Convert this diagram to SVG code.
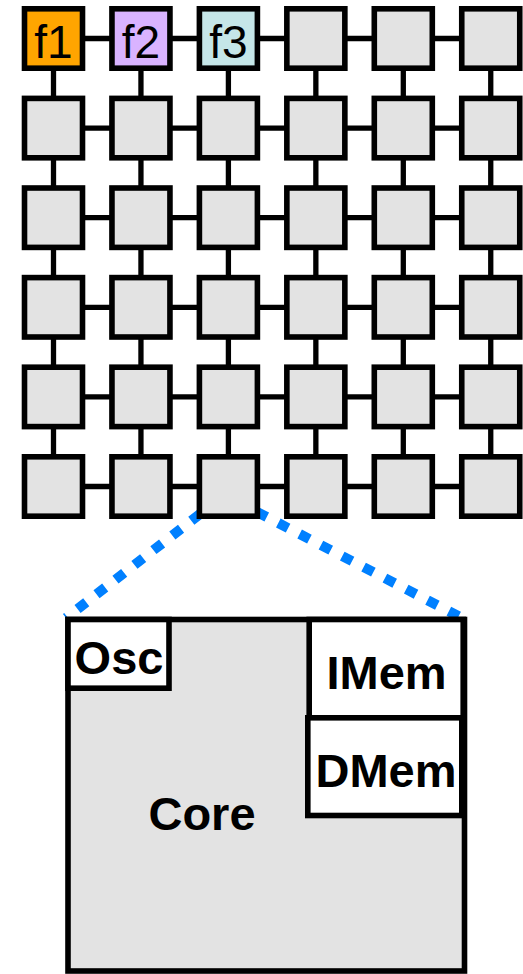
<svg xmlns="http://www.w3.org/2000/svg" width="523" height="974" viewBox="0 0 523 974">
<style>
.link{stroke:#000;stroke-width:5.3;fill:none}
.tile{fill:#e3e3e3;stroke:#000;stroke-width:5.6}
.flab{font-family:"Liberation Sans",Arial,sans-serif;font-size:46px;fill:#000;text-anchor:middle}
.zoom{stroke:#0080ff;stroke-width:10;stroke-dasharray:11 13;fill:none}
.blk{stroke:#000;stroke-width:5.6}
.blab{font-family:"Liberation Sans",Arial,sans-serif;font-size:47px;font-weight:bold;fill:#000;text-anchor:middle}
</style>
<defs>
<rect id="t" x="-29" y="-29.7" width="58" height="59.4"/>
</defs>
<g id="connectors">
<g class="link">
<line x1="53.5" y1="38.5" x2="490.75" y2="38.5"/>
<line x1="53.5" y1="128.1" x2="490.75" y2="128.1"/>
<line x1="53.5" y1="217.7" x2="490.75" y2="217.7"/>
<line x1="53.5" y1="307.3" x2="490.75" y2="307.3"/>
<line x1="53.5" y1="396.9" x2="490.75" y2="396.9"/>
<line x1="53.5" y1="486.5" x2="490.75" y2="486.5"/>
<line x1="53.5" y1="38.5" x2="53.5" y2="486.5"/>
<line x1="140.95" y1="38.5" x2="140.95" y2="486.5"/>
<line x1="228.4" y1="38.5" x2="228.4" y2="486.5"/>
<line x1="315.85" y1="38.5" x2="315.85" y2="486.5"/>
<line x1="403.3" y1="38.5" x2="403.3" y2="486.5"/>
<line x1="490.75" y1="38.5" x2="490.75" y2="486.5"/>
</g>
<line class="zoom" x1="200" y1="514" x2="66" y2="618"/>
<line class="zoom" x1="257" y1="512" x2="462" y2="618"/>
</g>
<g id="grid">
<g id="f1"><use href="#t" x="53.5" y="38.5" class="tile" style="fill:#ffa500"/><text class="flab" x="53.5" y="58">f1</text></g>
<g id="f2"><use href="#t" x="140.95" y="38.5" class="tile" style="fill:#d9b3ff"/><text class="flab" x="140.95" y="58">f2</text></g>
<g id="f3"><use href="#t" x="228.4" y="38.5" class="tile" style="fill:#c5e6e8"/><text class="flab" x="228.4" y="58">f3</text></g>
<g id="n0_3"><use href="#t" x="315.85" y="38.5" class="tile"/></g>
<g id="n0_4"><use href="#t" x="403.3" y="38.5" class="tile"/></g>
<g id="n0_5"><use href="#t" x="490.75" y="38.5" class="tile"/></g>
<g id="n1_0"><use href="#t" x="53.5" y="128.1" class="tile"/></g>
<g id="n1_1"><use href="#t" x="140.95" y="128.1" class="tile"/></g>
<g id="n1_2"><use href="#t" x="228.4" y="128.1" class="tile"/></g>
<g id="n1_3"><use href="#t" x="315.85" y="128.1" class="tile"/></g>
<g id="n1_4"><use href="#t" x="403.3" y="128.1" class="tile"/></g>
<g id="n1_5"><use href="#t" x="490.75" y="128.1" class="tile"/></g>
<g id="n2_0"><use href="#t" x="53.5" y="217.7" class="tile"/></g>
<g id="n2_1"><use href="#t" x="140.95" y="217.7" class="tile"/></g>
<g id="n2_2"><use href="#t" x="228.4" y="217.7" class="tile"/></g>
<g id="n2_3"><use href="#t" x="315.85" y="217.7" class="tile"/></g>
<g id="n2_4"><use href="#t" x="403.3" y="217.7" class="tile"/></g>
<g id="n2_5"><use href="#t" x="490.75" y="217.7" class="tile"/></g>
<g id="n3_0"><use href="#t" x="53.5" y="307.3" class="tile"/></g>
<g id="n3_1"><use href="#t" x="140.95" y="307.3" class="tile"/></g>
<g id="n3_2"><use href="#t" x="228.4" y="307.3" class="tile"/></g>
<g id="n3_3"><use href="#t" x="315.85" y="307.3" class="tile"/></g>
<g id="n3_4"><use href="#t" x="403.3" y="307.3" class="tile"/></g>
<g id="n3_5"><use href="#t" x="490.75" y="307.3" class="tile"/></g>
<g id="n4_0"><use href="#t" x="53.5" y="396.9" class="tile"/></g>
<g id="n4_1"><use href="#t" x="140.95" y="396.9" class="tile"/></g>
<g id="n4_2"><use href="#t" x="228.4" y="396.9" class="tile"/></g>
<g id="n4_3"><use href="#t" x="315.85" y="396.9" class="tile"/></g>
<g id="n4_4"><use href="#t" x="403.3" y="396.9" class="tile"/></g>
<g id="n4_5"><use href="#t" x="490.75" y="396.9" class="tile"/></g>
<g id="n5_0"><use href="#t" x="53.5" y="486.5" class="tile"/></g>
<g id="n5_1"><use href="#t" x="140.95" y="486.5" class="tile"/></g>
<g id="n5_2"><use href="#t" x="228.4" y="486.5" class="tile"/></g>
<g id="n5_3"><use href="#t" x="315.85" y="486.5" class="tile"/></g>
<g id="n5_4"><use href="#t" x="403.3" y="486.5" class="tile"/></g>
<g id="n5_5"><use href="#t" x="490.75" y="486.5" class="tile"/></g>
</g>
<g id="core">
<rect class="blk" x="68" y="619.5" width="396.5" height="351.5" fill="#e3e3e3"/>
<text class="blab" x="202" y="830">Core</text>
</g>
<g id="osc">
<rect class="blk" x="68" y="619.5" width="101" height="68.7" fill="#fff"/>
<text class="blab" x="119" y="674">Osc</text>
</g>
<g id="imem">
<rect class="blk" x="309.2" y="619.5" width="154" height="98.3" fill="#fff"/>
<text class="blab" x="386.5" y="689">IMem</text>
</g>
<g id="dmem">
<rect class="blk" x="307.8" y="717.8" width="154" height="97.7" fill="#fff"/>
<text class="blab" x="386" y="786.5">DMem</text>
</g>
</svg>
